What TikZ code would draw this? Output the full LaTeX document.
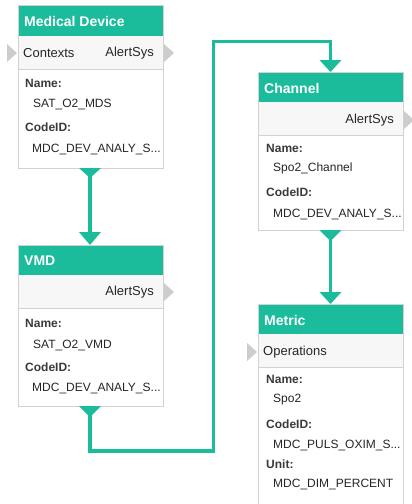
\documentclass[tikz,border=0pt]{standalone}
\usepackage{fontspec}
\setmainfont{Liberation Sans}
\usetikzlibrary{positioning}
\definecolor{mdgreen}{HTML}{1ABC9C}
\definecolor{boxline}{HTML}{D2D2D2}
\definecolor{portbg}{HTML}{F7F7F7}
\definecolor{portgray}{HTML}{CDCDCD}
\definecolor{keytext}{HTML}{3A3A3A}
\definecolor{valtext}{HTML}{262626}

\begin{document}
\begin{tikzpicture}[x=1pt,y=-1pt,
	head/.style={text=white,font=\fontsize{14}{16}\selectfont\bfseries,anchor=west,inner sep=0pt},
	port/.style={text=valtext,font=\fontsize{13}{15}\selectfont,inner sep=0pt},
	key/.style={text=keytext,font=\fontsize{12}{14}\selectfont\bfseries,anchor=west,inner sep=0pt},
	val/.style={text=valtext,font=\fontsize{12}{14}\selectfont,anchor=west,inner sep=0pt},
	link/.style={mdgreen,line width=3.7pt}]
	\useasboundingbox (0,0) rectangle (412,504);
	% Medical Device
	\fill[white] (18,5) rectangle (163,168);
	\fill[mdgreen] (18,5) rectangle (163,36);
	\fill[portbg] (18,36) rectangle (163,69);
	\draw[boxline] (18,69) -- (163,69);
	\draw[boxline] (18,5) rectangle (163,168);
	\node[head] (md) at (24,21) {Medical Device};
	\node[port,anchor=west] (md-ctx) at (23,53) {Contexts};
	\node[port,anchor=east] (md-alert) at (154,53) {AlertSys};
	\node[key] (md-name) at (25,83) {Name:};
	\node[val] (md-nameval) at (33,104) {SAT\_O2\_MDS};
	\node[key] (md-code) at (25,127) {CodeID:};
	\node[val] (md-codeval) at (32,149) {MDC\_DEV\_ANALY\_S...};
	\fill[portgray] (7,44) -- (17,53) -- (7,62) -- cycle;
	\fill[portgray] (164,44) -- (174,53) -- (164,62) -- cycle;
	\fill[mdgreen] (79,168) -- (101,168) -- (90,178) -- cycle;
	\coordinate (md-out) at (90,172);

	% VMD
	\fill[white] (18,245) rectangle (163,406);
	\fill[mdgreen] (18,245) rectangle (163,275);
	\fill[portbg] (18,275) rectangle (163,308);
	\draw[boxline] (18,308) -- (163,308);
	\draw[boxline] (18,245) rectangle (163,406);
	\node[head] (vmd) at (24,261) {VMD};
	\node[port,anchor=east] (vmd-alert) at (154,292) {AlertSys};
	\node[key] (vmd-name) at (25,323) {Name:};
	\node[val] (vmd-nameval) at (33,345) {SAT\_O2\_VMD};
	\node[key] (vmd-code) at (25,367) {CodeID:};
	\node[val] (vmd-codeval) at (32,388) {MDC\_DEV\_ANALY\_S...};
	\fill[portgray] (164,283) -- (174,292) -- (164,301) -- cycle;
	\fill[mdgreen] (79,232) -- (101,232) -- (90,245) -- cycle;
	\fill[mdgreen] (79,406) -- (101,406) -- (90,417) -- cycle;
	\coordinate (vmd-in) at (90,236);
	\coordinate (vmd-out) at (90,410);

	% Channel
	\fill[white] (258,72) rectangle (403,230);
	\fill[mdgreen] (258,72) rectangle (403,102);
	\fill[portbg] (258,102) rectangle (403,135);
	\draw[boxline] (258,135) -- (403,135);
	\draw[boxline] (258,72) rectangle (403,230);
	\node[head] (ch) at (264,88) {Channel};
	\node[port,anchor=east] (ch-alert) at (394,120) {AlertSys};
	\node[key] (ch-name) at (266,148) {Name:};
	\node[val] (ch-nameval) at (273,168) {Spo2\_Channel};
	\node[key] (ch-code) at (266,192) {CodeID:};
	\node[val] (ch-codeval) at (273,214) {MDC\_DEV\_ANALY\_S...};
	\fill[portgray] (404,111) -- (414,120) -- (404,129) -- cycle;
	\fill[mdgreen] (319.5,60) -- (341.5,60) -- (330.5,72) -- cycle;
	\fill[mdgreen] (319.5,230) -- (341.5,230) -- (330.5,241) -- cycle;
	\coordinate (ch-in) at (330.5,63);
	\coordinate (ch-out) at (330.5,234);

	% Metric
	\fill[white] (258,304) rectangle (403,508);
	\fill[mdgreen] (258,304) rectangle (403,334);
	\fill[portbg] (258,334) rectangle (403,367);
	\draw[boxline] (258,367) -- (403,367);
	\draw[boxline] (258,304) rectangle (403,508);
	\node[head] (met) at (264,320) {Metric};
	\node[port,anchor=west] (met-ops) at (263,352) {Operations};
	\node[key] (met-name) at (266,379) {Name:};
	\node[val] (met-nameval) at (273,400) {Spo2};
	\node[key] (met-code) at (266,424) {CodeID:};
	\node[val] (met-codeval) at (273,445) {MDC\_PULS\_OXIM\_S...};
	\node[key] (met-unit) at (266,464) {Unit:};
	\node[val] (met-unitval) at (273,484) {MDC\_DIM\_PERCENT};
	\fill[portgray] (247,343) -- (257,352) -- (247,361) -- cycle;
	\fill[mdgreen] (319.5,292) -- (341.5,292) -- (330.5,304) -- cycle;
	\coordinate (met-in) at (330.5,296);

	% links
	\draw[link] (md-out) -- (vmd-in);
	\draw[link] (vmd-out) |- (213.5,451) -- (213.5,41.5) -| (ch-in);
	\draw[link] (ch-out) -- (met-in);
\end{tikzpicture}
\end{document}
